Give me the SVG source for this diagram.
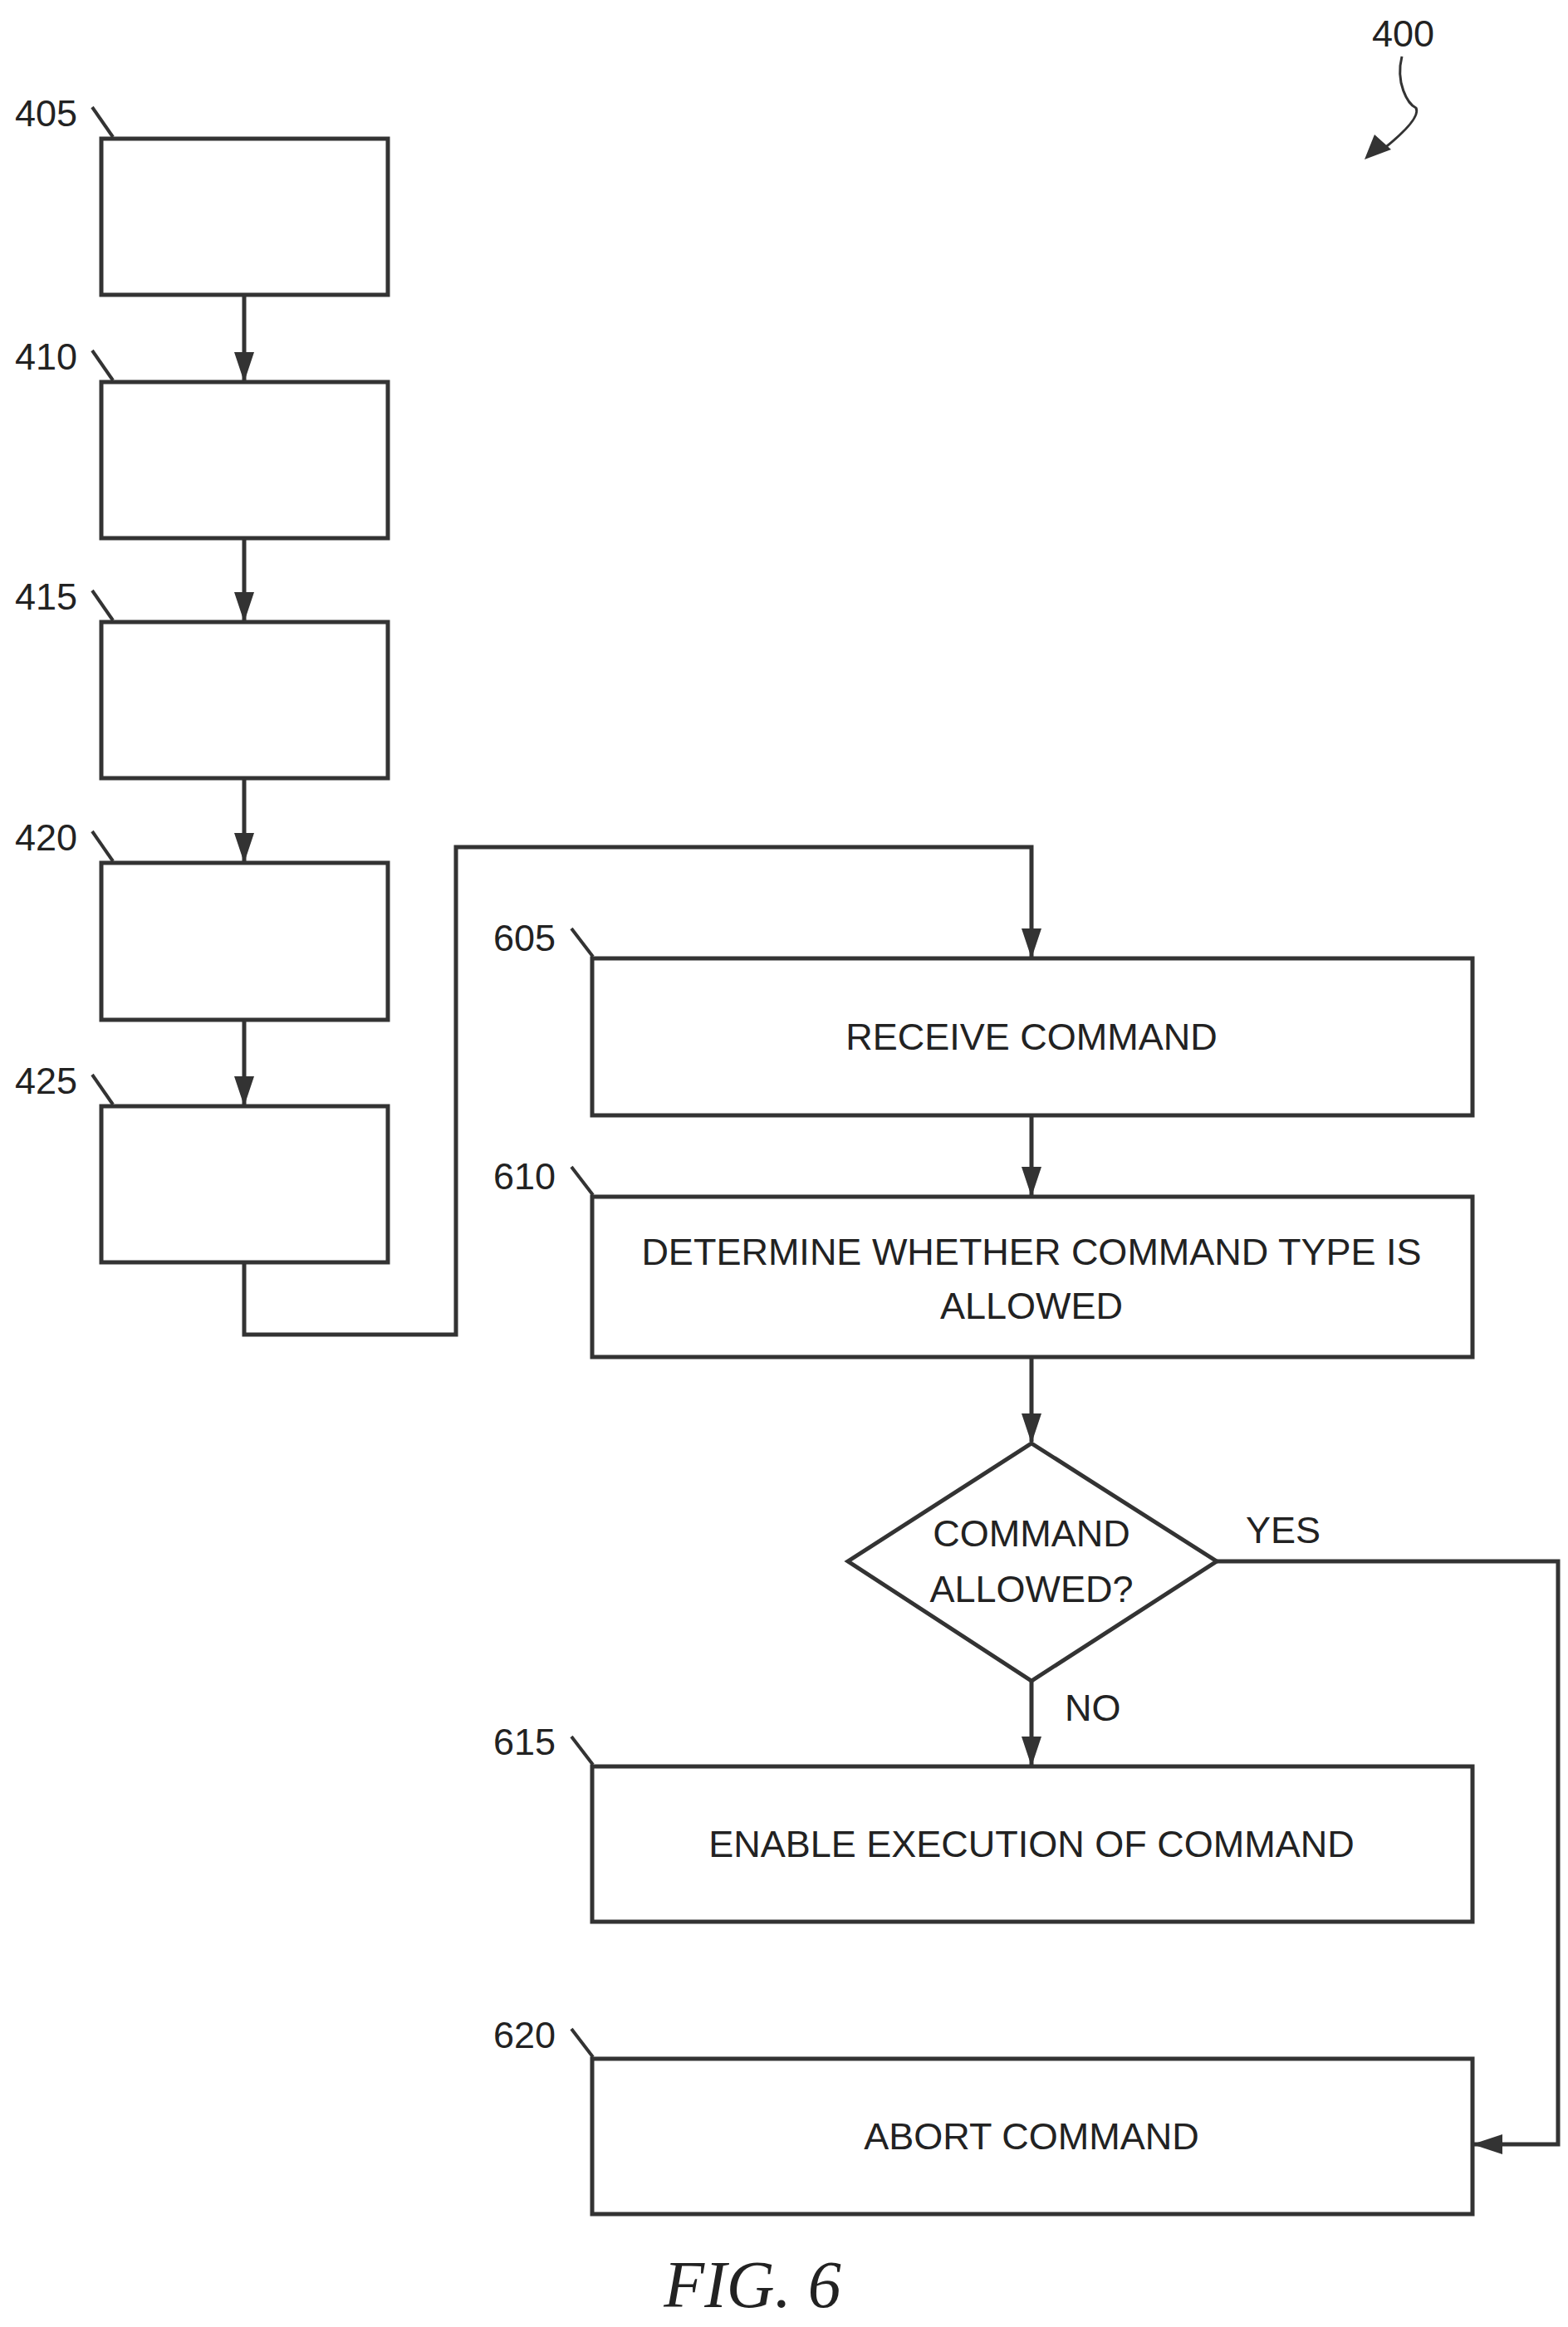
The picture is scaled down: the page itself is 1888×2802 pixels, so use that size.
<svg xmlns="http://www.w3.org/2000/svg" width="1888" height="2802" viewBox="0 0 1888 2802">
<style>
.b{fill:#fff;stroke:#333;stroke-width:5}
.l{fill:none;stroke:#333;stroke-width:5}
.t{font-family:"Liberation Sans",Arial,sans-serif;font-size:45px;fill:#222;text-anchor:middle}
.n{font-family:"Liberation Sans",Arial,sans-serif;font-size:45px;fill:#222}
.k{stroke:#333;stroke-width:4}
</style>
<defs>
<marker id="a" viewBox="0 0 36 24" refX="34" refY="12" markerWidth="36" markerHeight="24" markerUnits="userSpaceOnUse" orient="auto">
<path d="M0,0 L36,12 L0,24 Z" fill="#333"/>
</marker>
</defs>
<rect width="1888" height="2802" fill="#fff"/>
<g id="connectors">
<line class="l" x1="294" y1="355" x2="294" y2="458" marker-end="url(#a)"/>
<line class="l" x1="294" y1="648" x2="294" y2="747" marker-end="url(#a)"/>
<line class="l" x1="294" y1="937" x2="294" y2="1037" marker-end="url(#a)"/>
<line class="l" x1="294" y1="1228" x2="294" y2="1330" marker-end="url(#a)"/>
<polyline class="l" points="294,1520 294,1607 549,1607 549,1020 1242,1020 1242,1152" marker-end="url(#a)"/>
<line class="l" x1="1242" y1="1343" x2="1242" y2="1439" marker-end="url(#a)"/>
<line class="l" x1="1242" y1="1634" x2="1242" y2="1736" marker-end="url(#a)"/>
<line class="l" x1="1242" y1="2024" x2="1242" y2="2125" marker-end="url(#a)"/>
<polyline class="l" points="1465,1880 1876,1880 1876,2582 1775,2582" marker-end="url(#a)"/>
<text class="n" x="1500" y="1858">YES</text>
<text class="n" x="1282" y="2072">NO</text>
</g>
<g id="n400">
<text class="n" x="1652" y="56">400</text>
<path class="l" d="M1688,68 C1680,100 1695,125 1705,130 C1710,140 1690,160 1665,180" style="stroke-width:3"/>
<path d="M1643,192 L1655,162 L1675,180 Z" fill="#333"/>
</g>
<g id="n405"><rect class="b" x="122" y="167" width="345" height="188"/><text class="n" x="18" y="152">405</text><line class="k" x1="111" y1="129" x2="136" y2="165"/></g>
<g id="n410"><rect class="b" x="122" y="460" width="345" height="188"/><text class="n" x="18" y="445">410</text><line class="k" x1="111" y1="422" x2="136" y2="458"/></g>
<g id="n415"><rect class="b" x="122" y="749" width="345" height="188"/><text class="n" x="18" y="734">415</text><line class="k" x1="111" y1="711" x2="136" y2="747"/></g>
<g id="n420"><rect class="b" x="122" y="1039" width="345" height="189"/><text class="n" x="18" y="1024">420</text><line class="k" x1="111" y1="1001" x2="136" y2="1037"/></g>
<g id="n425"><rect class="b" x="122" y="1332" width="345" height="188"/><text class="n" x="18" y="1317">425</text><line class="k" x1="111" y1="1294" x2="136" y2="1330"/></g>
<g id="n605"><rect class="b" x="713" y="1154" width="1060" height="189"/><text class="n" x="594" y="1145">605</text><line class="k" x1="688" y1="1118" x2="714" y2="1152"/><text class="t" x="1242" y="1264">RECEIVE COMMAND</text></g>
<g id="n610"><rect class="b" x="713" y="1441" width="1060" height="193"/><text class="n" x="594" y="1432">610</text><line class="k" x1="688" y1="1405" x2="714" y2="1439"/><text class="t" x="1242" y="1523">DETERMINE WHETHER COMMAND TYPE IS</text><text class="t" x="1242" y="1588">ALLOWED</text></g>
<g id="decision"><polygon class="b" points="1242,1738 1465,1880 1242,2024 1021,1880"/><text class="t" x="1242" y="1862">COMMAND</text><text class="t" x="1242" y="1929">ALLOWED?</text></g>
<g id="n615"><rect class="b" x="713" y="2127" width="1060" height="187"/><text class="n" x="594" y="2113">615</text><line class="k" x1="688" y1="2091" x2="714" y2="2125"/><text class="t" x="1242" y="2236">ENABLE EXECUTION OF COMMAND</text></g>
<g id="n620"><rect class="b" x="713" y="2479" width="1060" height="187"/><text class="n" x="594" y="2466">620</text><line class="k" x1="688" y1="2443" x2="714" y2="2477"/><text class="t" x="1242" y="2588">ABORT COMMAND</text></g>
<text x="906" y="2778" style="font-family:'Liberation Serif','Times New Roman',serif;font-style:italic;font-size:80px;fill:#222;text-anchor:middle">FIG. 6</text>
</svg>
